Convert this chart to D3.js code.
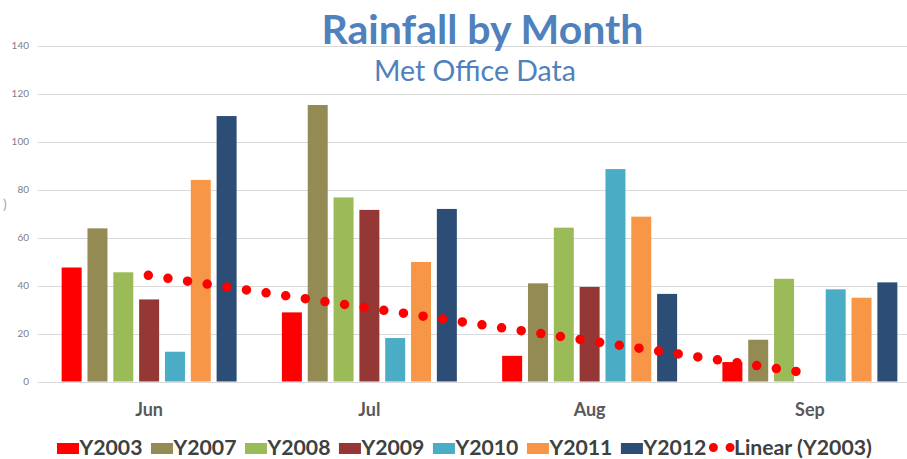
<!DOCTYPE html>
<html>
<head>
<meta charset="utf-8">
<script src="https://cdn.jsdelivr.net/npm/d3@7"></script>
<style>
  html, body { margin: 0; padding: 0; background: #fff; }
  svg { display: block; font-family: Lato, "Open Sans", sans-serif; }
</style>
</head>
<body>
<svg id="chart" width="907" height="459"></svg>
<script>
// Monthly rainfall (mm), one array per year
const months = ["Jun", "Jul", "Aug", "Sep"];
const seriesNames = ["Y2003", "Y2007", "Y2008", "Y2009", "Y2010", "Y2011", "Y2012"];
const Y2003 = [47.5, 28.8, 10.7, 8.1];
const Y2007 = [63.8, 115.2, 40.9, 17.4];
const Y2008 = [45.5, 76.7, 64.1, 42.8];
const Y2009 = [34.2, 71.5, 39.4, null];
const Y2010 = [12.4, 18.1, 88.5, 38.4];
const Y2011 = [84.0, 49.8, 68.7, 34.9];
const Y2012 = [110.6, 71.9, 36.5, 41.3];
const yTicks = [0, 20, 40, 60, 80, 100, 120, 140];
const titleText = "Rainfall by Month";
const subtitleText = "Met Office Data";
const trendLabel = "Linear (Y2003)";

const seriesValues = [Y2003, Y2007, Y2008, Y2009, Y2010, Y2011, Y2012];
const colors = ["#ff0000", "#948a54", "#9bbb59", "#953735", "#4bacc6", "#f79646", "#2c4d75"];

const svg = d3.select("#chart");

// Plot geometry
const plotLeft = 39, plotRight = 920, plotTop = 45.5, plotBottom = 381.5;

const y = d3.scaleLinear().domain([0, 140]).range([plotBottom, plotTop]);
const x0 = d3.scaleBand().domain(months).range([plotLeft, plotRight]).padding(0);
const x1 = d3.scaleBand().domain(seriesNames).range([0, x0.bandwidth()])
  .paddingInner(0.226).paddingOuter(0.877);
const color = d3.scaleOrdinal().domain(seriesNames).range(colors);

// Gridlines
svg.append("g")
  .selectAll("line")
  .data(yTicks)
  .join("line")
  .attr("x1", plotLeft - 1)
  .attr("x2", 907)
  .attr("y1", d => Math.round(y(d)) + 0.5)
  .attr("y2", d => Math.round(y(d)) + 0.5)
  .attr("stroke", "#d9d9d9")
  .attr("stroke-width", 1);

// Y axis labels
const yAxis = d3.axisLeft(y).tickValues(yTicks).tickSize(0).tickPadding(0);
const yg = svg.append("g").attr("transform", `translate(29,0)`).call(yAxis);
yg.select(".domain").remove();
yg.selectAll("text")
  .attr("fill", "#808080")
  .style("font-family", "Lato, sans-serif")
  .style("font-size", "10px");

// Fragment of the axis title
svg.append("text")
  .attr("x", 3).attr("y", 209)
  .attr("fill", "#a6a6a6")
  .style("font-size", "14px")
  .text(")");

// Bars
const rows = months.map((m, i) => ({
  month: m,
  vals: seriesNames.map((s, j) => ({ series: s, value: seriesValues[j][i] }))
}));

svg.append("g")
  .selectAll("g")
  .data(rows)
  .join("g")
  .attr("transform", d => `translate(${x0(d.month)},0)`)
  .selectAll("rect")
  .data(d => d.vals.filter(v => v.value != null))
  .join("rect")
  .attr("x", d => x1(d.series))
  .attr("width", x1.bandwidth())
  .attr("y", d => y(d.value))
  .attr("height", d => y(0) - y(d.value))
  .attr("fill", d => color(d.series));

// Linear trendline of Y2003 (least squares over category index)
const xs = months.map((m, i) => i + 1);
const mx = d3.mean(xs), my = d3.mean(Y2003);
const slope = d3.sum(xs, (xv, i) => (xv - mx) * (Y2003[i] - my)) / d3.sum(xs, xv => (xv - mx) ** 2);
const intercept = my - slope * mx;
const trendPts = [xs[0], xs[xs.length - 1]].map(xv => ({
  x: x0(months[xv - 1]) + x0.bandwidth() / 2,
  y: y(intercept + slope * xv)
}));

svg.append("line")
  .attr("x1", trendPts[0].x - 0.8).attr("y1", trendPts[0].y)
  .attr("x2", trendPts[1].x).attr("y2", trendPts[1].y)
  .attr("stroke", "#ff0000")
  .attr("stroke-width", 9.5)
  .attr("stroke-linecap", "round")
  .attr("stroke-dasharray", "0 19.84");

// X axis labels
svg.append("g")
  .selectAll("text")
  .data(months)
  .join("text")
  .attr("x", d => x0(d) + x0.bandwidth() / 2)
  .attr("y", 416)
  .attr("text-anchor", "middle")
  .attr("fill", "#595959")
  .style("font-weight", "bold")
  .style("font-size", "18px")
  .text(d => d);

// Size a text element so it spans the given width
function fitWidth(sel, width, baseSize) {
  sel.style("font-size", baseSize + "px");
  const w = sel.node().getComputedTextLength();
  sel.style("font-size", (baseSize * width / w) + "px");
}

// Titles
const title = svg.append("text")
  .attr("x", 482.5).attr("y", 44)
  .attr("text-anchor", "middle")
  .attr("fill", "#4f81bd")
  .style("font-weight", "bold")
  .text(titleText);
fitWidth(title, 322, 40);

const subtitle = svg.append("text")
  .attr("x", 475).attr("y", 81)
  .attr("text-anchor", "middle")
  .attr("fill", "#4f81bd")
  .text(subtitleText);
fitWidth(subtitle, 202, 22);

// Legend
const legend = svg.append("g");
const probe = legend.append("text").style("font-weight", "bold").text("Y2003");
fitWidth(probe, 63, 20);
const legendSize = parseFloat(probe.style("font-size"));
probe.remove();

const legendBase = 454.5;
let lx = 57;
seriesNames.forEach(s => {
  legend.append("rect")
    .attr("x", lx).attr("y", 443)
    .attr("width", 22).attr("height", 11)
    .attr("fill", color(s));
  const t = legend.append("text")
    .attr("x", lx + 22.5).attr("y", legendBase)
    .attr("fill", "#404040")
    .style("font-weight", "bold")
    .style("font-size", legendSize + "px")
    .text(s);
  lx += 22.5 + t.node().getComputedTextLength() + 8.5;
});
// Trendline legend marker
const dotStart = lx - 1.5;
legend.append("line")
  .attr("x1", dotStart).attr("y1", 447.5)
  .attr("x2", dotStart + 16.7).attr("y2", 447.5)
  .attr("stroke", "#ff0000")
  .attr("stroke-width", 9)
  .attr("stroke-linecap", "round")
  .attr("stroke-dasharray", "0 16.7");
legend.append("text")
  .attr("x", dotStart + 20.5).attr("y", legendBase)
  .attr("fill", "#404040")
  .style("font-weight", "bold")
  .style("font-size", legendSize + "px")
  .text(trendLabel);
</script>
</body>
</html>
